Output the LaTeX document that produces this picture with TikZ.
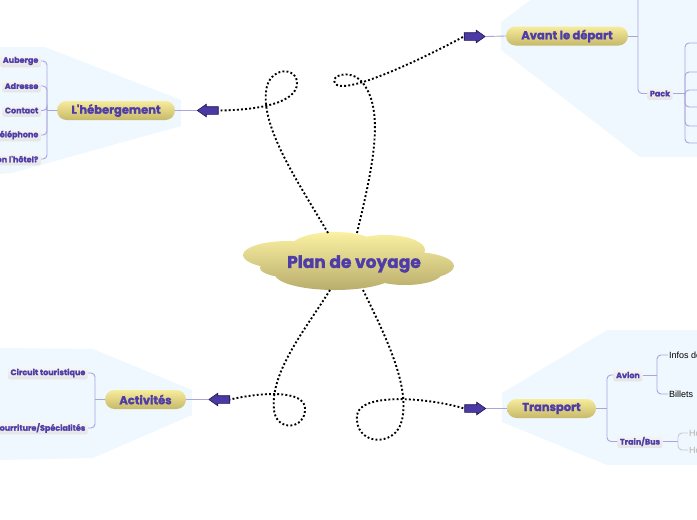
\documentclass[tikz,border=0pt]{standalone}
\usepackage{fontspec}
\setmainfont{Poppins}
\newfontfamily\heavy[BoldFeatures={FakeBold=1.6}]{Poppins}
\newfontfamily\lab{Liberation Sans}
\usetikzlibrary{shapes.arrows}
\definecolor{bgblue}{HTML}{EEF8FE}
\definecolor{txtpurple}{HTML}{4E3DA8}
\definecolor{linecol}{HTML}{ABA3DD}
\definecolor{lightline}{HTML}{C9C9D6}
\definecolor{arrfill}{HTML}{4B3AA3}
\definecolor{arrdraw}{HTML}{1F1650}
\definecolor{pilltop}{HTML}{F7EB9C}
\definecolor{pillmid}{HTML}{EADC86}
\definecolor{pillbot}{HTML}{C7B96A}
\definecolor{cloudtop}{HTML}{FBF1A2}
\definecolor{cloudbot}{HTML}{B9AD6C}
\definecolor{subtop}{HTML}{F6F6F6}
\definecolor{subbot}{HTML}{E4E4E4}
\begin{document}
\begin{tikzpicture}[x=1pt,y=-1pt,
  pill/.style={rounded corners=9.5, minimum height=19, inner sep=0,
    top color=pilltop, middle color=pillmid, bottom color=pillbot,
    font=\heavy\bfseries\fontsize{11.5}{13}\selectfont, text=txtpurple},
  sublab/.style={rounded corners=2, inner xsep=2.5, inner ysep=0, minimum height=12.5,
    top color=subtop, bottom color=subbot,
    font=\heavy\bfseries\fontsize{8}{9}\selectfont, text=txtpurple},
  leaf/.style={inner sep=1pt, font=\lab\fontsize{9}{10}\selectfont},
  conn/.style={draw=linecol, line width=0.9pt},
  brk/.style={draw=linecol, line width=0.9pt, rounded corners=4},
  greybrk/.style={draw=lightline, line width=0.9pt, rounded corners=4},
  dots/.style={draw=black, line width=1.9pt, dash pattern=on 1.9pt off 2.2pt},
  arr/.style={single arrow, single arrow head extend=2.5, single arrow tip angle=70,
    minimum height=21, minimum width=12, inner xsep=0, inner ysep=3.5, fill=arrfill, draw=arrdraw, line width=0.6pt}
]
\useasboundingbox (0,0) rectangle (697,520);
\clip (0,0) rectangle (697,520);

% light blue group backgrounds
\fill[bgblue] (533,-2) -- (501,22) -- (501,50) -- (640,157) -- (700,157) -- (700,-2) -- cycle;
\fill[bgblue] (-2,47) -- (45,47) -- (181,100) -- (181,126) -- (12,173) -- (-2,174) -- cycle;
\fill[bgblue] (-2,348) -- (93,349) -- (192,390) -- (192,415) -- (93,458) -- (-2,460) -- cycle;
\fill[bgblue] (607,330) -- (502,393) -- (502,422) -- (607,465) -- (700,465) -- (700,330) -- cycle;

% central cloud
\shade[top color=cloudtop, bottom color=cloudbot]
  (288,255) ellipse (45 and 14)
  (335,248) ellipse (45 and 16)
  (385,250) ellipse (40 and 15)
  (412,266) ellipse (42 and 14)
  (335,274) ellipse (60 and 16)
  (295,268) ellipse (35 and 10)
  (405,273) ellipse (37 and 12);
\node[font=\heavy\bfseries\fontsize{17}{19}\selectfont, text=txtpurple] (root) at (354,264) {Plan de voyage};
\coordinate (cA) at (357,233);
\coordinate (cB) at (328,233);
\coordinate (cC) at (330,290);
\coordinate (cD) at (363,290);

% main branches
\node[pill, minimum width=122] (avd) at (567,36) {Avant le départ};
\node[pill, minimum width=118] (heb) at (116,110.5) {L'hébergement};
\node[pill, minimum width=81] (act) at (145.5,399.5) {Activités};
\node[pill, minimum width=89] (tr) at (551.5,408.5) {Transport};

% arrows
\node[arr] (aA) at (472,36.5) {};
\node[arr, shape border rotate=180] (aH) at (210.5,110.5) {};
\node[arr, shape border rotate=180] (aC) at (222,399.5) {};
\node[arr] (aT) at (472.5,408.5) {};
\draw[conn] (aA.tip) -- (avd.west);
\draw[conn] (aH.tip) -- (heb.east);
\draw[conn] (aC.tip) -- (act.east);
\draw[conn] (aT.tip) -- (tr.west);

% dotted connectors
\draw[dots] (cA) .. controls (372,170) and (386,110) .. (362,82)
  .. controls (350,68) and (326,76) .. (337,85)
  .. controls (352,92) and (420,60) .. (aA.tail);
\draw[dots] (cB) .. controls (300,185) and (262,130) .. (266,92)
  .. controls (268,66) and (298,66) .. (297,84)
  .. controls (296,102) and (262,110) .. (aH.tail);
\draw[dots] (cC) .. controls (305,330) and (270,372) .. (274,410)
  .. controls (276,432) and (306,430) .. (305,408)
  .. controls (304,390) and (262,392) .. (aC.tail);
\draw[dots] (cD) .. controls (385,335) and (410,385) .. (402,420)
  .. controls (396,448) and (354,446) .. (357,415)
  .. controls (360,393) and (425,397) .. (aT.tail);

% L'hebergement children
\node[sublab, anchor=east] (h1) at (41,61) {Auberge};
\node[sublab, anchor=east] (h2) at (41,86) {Adresse};
\node[sublab, anchor=east] (h3) at (41,110.5) {Contact};
\node[sublab, anchor=east] (h4) at (41,135) {Téléphone};
\node[sublab, anchor=east] (h5) at (41,159) {Réservation l'hôtel?};
\coordinate (hb) at (47,110.5);
\draw[conn] (heb.west) -- (hb);
\foreach \c in {h1,h2,h3,h4,h5} \draw[brk] (\c.east) -- (\c.east -| hb) -- (hb);

% Activites children
\node[sublab, anchor=east] (c1) at (88,373) {Circuit touristique};
\node[sublab, anchor=east] (c2) at (88,428) {Nourriture/Spécialités};
\coordinate (cb) at (95,399.5);
\draw[conn] (act.west) -- (cb);
\foreach \c in {c1,c2} \draw[brk] (\c.east) -- (\c.east -| cb) -- (cb);

% Avant le depart children
\node[sublab] (pack) at (660,93.5) {Pack};
\coordinate (ab) at (638,36);
\coordinate (atop) at (638,-6);
\draw[conn] (avd.east) -- (ab);
\draw[brk] (atop) -- (ab |- pack.west) -- (pack.west);
\coordinate (pb) at (685,93.5);
\draw[conn] (pack.east) -- (pb);
\coordinate (p1) at (700,43);
\coordinate (p2) at (700,72);
\coordinate (p3) at (700,90);
\coordinate (p4) at (700,107);
\coordinate (p5) at (700,126);
\coordinate (p6) at (700,143);
\foreach \c in {p1,p2,p3,p4,p5,p6} \draw[brk] (\c) -- (\c -| pb) -- (pb);

% Transport children
\node[sublab] (avion) at (628,375) {Avion};
\node[sublab] (train) at (640,441.5) {Train/Bus};
\coordinate (tb) at (607,408.5);
\draw[conn] (tr.east) -- (tb);
\foreach \c in {avion,train} \draw[brk] (\c.west) -- (\c.west -| tb) -- (tb);

\node[leaf, anchor=west] (inf) at (668,355) {Infos de vol};
\node[leaf, anchor=west] (bil) at (668,394) {Billets};
\coordinate (vb) at (657,375);
\draw[conn] (avion.east) -- (vb);
\foreach \c in {inf,bil} \draw[brk] (\c.west) -- (\c.west -| vb) -- (vb);

\node[leaf, anchor=west, text=gray!60] (ho1) at (688,433) {Horaires};
\node[leaf, anchor=west, text=gray!60] (ho2) at (688,450) {Horaires};
\coordinate (gb) at (678,441.5);
\draw[conn] (train.east) -- (gb);
\foreach \c in {ho1,ho2} \draw[greybrk] (\c.west) -- (\c.west -| gb) -- (gb);
\end{tikzpicture}
\end{document}
